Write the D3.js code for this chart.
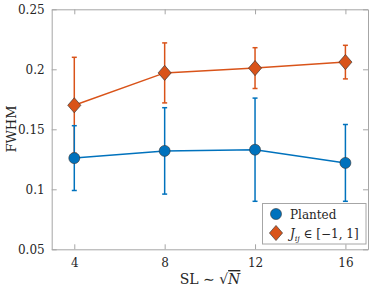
<!DOCTYPE html>
<html><head><meta charset="utf-8">
<script src="https://cdn.jsdelivr.net/npm/d3@7"></script>
</head><body style="margin:0;background:#fff"><svg id="c" width="374" height="292" style="display:block"></svg>
<script>
const xValues = [4, 8, 12, 16];
const plantedMean = [0.126, 0.132, 0.133, 0.122];
const plantedErr = [0.027, 0.036, 0.043, 0.032];
const jijMean = [0.170, 0.197, 0.201, 0.206];
const jijErr = [0.040, 0.025, 0.017, 0.014];
const xTicks = [4, 8, 12, 16];
const yTicks = [0.05, 0.1, 0.15, 0.2, 0.25];
const yTickLabels = ["0.05", "0.1", "0.15", "0.2", "0.25"];

const FONT = "'DejaVu Serif', 'Liberation Serif', serif";
const svg = d3.select("#c");
const L = 51.7, R = 368, T = 9.3, B = 249.3;
const x = d3.scaleLinear().domain([3, 17]).range([L, R]);
const y = d3.scaleLinear().domain([0.05, 0.25]).range([B, T]);
const axisCol = "#a6a6a6";
const txtCol = "#262626";
const blue = "#0072BD", orange = "#D95319";

const gx = svg.append("g").attr("transform", `translate(0,${B})`)
  .call(d3.axisBottom(x).tickValues(xTicks).tickSizeInner(-5).tickSizeOuter(0).tickPadding(9));
const gxt = svg.append("g").attr("transform", `translate(0,${T})`)
  .call(d3.axisTop(x).tickValues(xTicks).tickSizeInner(-5).tickSizeOuter(0).tickFormat(""));
const gy = svg.append("g").attr("transform", `translate(${L},0)`)
  .call(d3.axisLeft(y).tickValues(yTicks).tickSizeInner(-5).tickSizeOuter(0).tickPadding(7).tickFormat((d,i)=>yTickLabels[i]));
const gyr = svg.append("g").attr("transform", `translate(${R},0)`)
  .call(d3.axisRight(y).tickValues(yTicks).tickSizeInner(-5).tickSizeOuter(0).tickFormat(""));
[gx, gxt, gy, gyr].forEach(g => {
  g.attr("font-family", FONT).attr("font-size", 12);
  g.selectAll("path").attr("stroke", axisCol).attr("stroke-width", 1);
  g.selectAll("line").attr("stroke", axisCol);
  g.selectAll("text").attr("fill", txtCol).attr("font-family", FONT).attr("font-size", 12);
});
gy.selectAll("text").attr("dy", "0.35em");

function series(mean, err, col, shape) {
  const g = svg.append("g");
  const line = d3.line().x((d, i) => x(xValues[i])).y(d => y(d));
  xValues.forEach((xv, i) => {
    const cx = x(xv), y1 = y(mean[i] + err[i]), y2 = y(mean[i] - err[i]);
    g.append("line").attr("x1", cx).attr("x2", cx).attr("y1", y1).attr("y2", y2).attr("stroke", col).attr("stroke-width", 1.5);
    [y1, y2].forEach(yy => g.append("line").attr("x1", cx - 2.5).attr("x2", cx + 2.5).attr("y1", yy).attr("y2", yy).attr("stroke", col).attr("stroke-width", 1.5));
  });
  g.append("path").datum(mean).attr("d", line).attr("fill", "none").attr("stroke", col).attr("stroke-width", 1.5);
  const sym = d3.symbol().type(shape === "circle" ? d3.symbolCircle : d3.symbolDiamond2).size(shape === "circle" ? 95 : 110);
  mean.forEach((m, i) => {
    g.append("path").attr("d", sym()).attr("transform", `translate(${x(xValues[i])},${y(m)})${shape==="circle"?"":" scale(1.0,1.15)"}`)
      .attr("fill", col).attr("stroke", "#333").attr("stroke-width", 0.6);
  });
}
series(jijMean, jijErr, orange, "diamond");
series(plantedMean, plantedErr, blue, "circle");

function txt(sel, size) { return sel.attr("fill", txtCol).attr("font-family", FONT).attr("font-size", size); }

const lg = svg.append("g");
lg.append("rect").attr("x", 262.5).attr("y", 203.5).attr("width", 103.5).attr("height", 40.5)
  .attr("fill", "#fff").attr("stroke", "#a6a6a6").attr("stroke-width", 1);
lg.append("path").attr("d", d3.symbol().type(d3.symbolCircle).size(95)()).attr("transform", "translate(276,214)")
  .attr("fill", blue).attr("stroke", "#333").attr("stroke-width", 0.6);
lg.append("path").attr("d", d3.symbol().type(d3.symbolDiamond2).size(110)()).attr("transform", "translate(276,233) scale(1,1.15)")
  .attr("fill", orange).attr("stroke", "#333").attr("stroke-width", 0.6);
txt(lg.append("text").attr("x", 290).attr("y", 218.5), 12).text("Planted");
const t2 = txt(lg.append("text").attr("x", 290).attr("y", 237.5), 12);
t2.append("tspan").attr("font-style", "italic").text("J");
t2.append("tspan").attr("font-style", "italic").attr("font-size", 8).attr("dy", 3).text("ij");
t2.append("tspan").attr("dy", -3).text(" ∈ [−1, 1]");

const xl = txt(svg.append("text").attr("x", 210).attr("y", 284).attr("text-anchor", "middle"), 14);
xl.append("tspan").text("SL ∼ √");
xl.append("tspan").attr("font-style", "italic").attr("text-decoration", "overline").text("N");
txt(svg.append("text").attr("transform", "translate(16,129) rotate(-90)").attr("text-anchor", "middle"), 13).text("FWHM");
</script></body></html>
